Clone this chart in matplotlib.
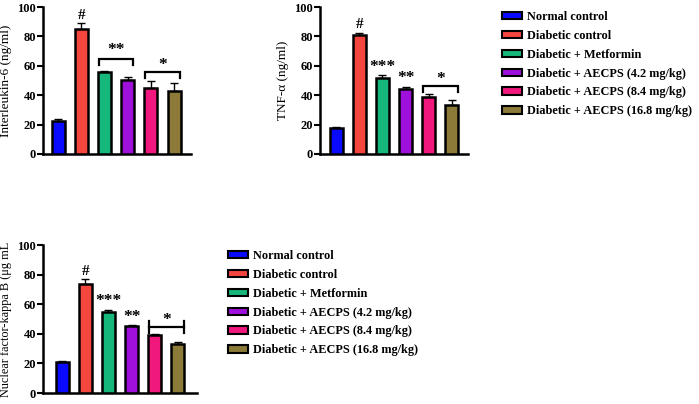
import numpy as np
import matplotlib
matplotlib.use("Agg")
import matplotlib.pyplot as plt
from matplotlib.patches import Patch

plt.rcParams['font.family'] = ['Liberation Serif', 'DejaVu Serif']
plt.rcParams['font.weight'] = 'bold'

# groups and colours
groups = ["Normal control", "Diabetic control", "Diabetic + Metformin",
          "Diabetic + AECPS (4.2 mg/kg)", "Diabetic + AECPS (8.4 mg/kg)",
          "Diabetic + AECPS (16.8 mg/kg)"]
colors = ["#0a0aff", "#f5453f", "#16b77a", "#a010dc", "#f0187c", "#8c7a38"]

# Interleukin-6
il6_mean = [22.5, 85, 55.5, 50.5, 45, 43]
il6_err = [1, 4, 1, 2, 4.5, 5]
il6_marks = ["", "#", "", "", "", ""]

# TNF-alpha
tnf_mean = [17.5, 81, 51.5, 44.5, 39, 33]
tnf_err = [1, 1.5, 2, 1, 1.5, 3.5]
tnf_marks = ["", "#", "***", "**", "", ""]

# NF-kB
nfkb_mean = [21, 73.5, 54.5, 45, 39, 33]
nfkb_err = [0.8, 3.5, 1.5, 0.7, 1, 1.5]
nfkb_marks = ["", "#", "***", "**", "", ""]

W, H = 699, 404
fig = plt.figure(figsize=(W / 100, H / 100), dpi=100)


def px_axes(left, right, top, bottom):
    return fig.add_axes([left / W, 1 - bottom / H, (right - left) / W, (bottom - top) / H])


def bar_panel(ax, means, errs, marks, ylabel, xlim, lab_size=9.5):
    x = np.arange(len(means))
    ax.bar(x, means, width=0.56, color=colors, edgecolor="black", linewidth=1.8, zorder=3)
    ax.errorbar(x, means, yerr=[np.zeros(len(errs)), errs], fmt="none", ecolor="black",
                elinewidth=1.0, capsize=3, capthick=1.0, zorder=2)
    for xi, m, e, s in zip(x, means, errs, marks):
        if s == "#":
            ax.text(xi, m + e + 1, s, ha="center", va="bottom", fontsize=11)
        elif s:
            ax.text(xi, m + e + 0.5, s, ha="center", va="bottom", fontsize=12.5)
    ax.set_xlim(*xlim)
    ax.set_ylim(0, 100)
    ax.set_yticks([0, 20, 40, 60, 80, 100])
    ax.set_xticks([])
    for sp in ["top", "right"]:
        ax.spines[sp].set_visible(False)
    for sp in ["left", "bottom"]:
        ax.spines[sp].set_linewidth(1.8)
    ax.tick_params(axis="y", direction="out", length=4, width=1.5, labelsize=9, pad=1)
    ax.set_ylabel(ylabel, fontsize=lab_size, labelpad=4)
    ax.set_facecolor("none")


def bracket(ax, x0, x1, y, star, tick_down=4, tick_up=0, dy=3):
    ax.plot([x0, x0, x1, x1], [y - tick_down, y, y, y - tick_down], color="black", lw=1.6,
            solid_joinstyle="miter")
    if tick_up:
        ax.plot([x0, x0], [y, y + tick_up], color="black", lw=1.6)
        ax.plot([x1, x1], [y, y + tick_up], color="black", lw=1.6)
    ax.text((x0 + x1) / 2, y + dy, star, ha="center", va="center", fontsize=12.5)


def legend_at(x, y):
    handles = [Patch(facecolor=c, edgecolor="black", linewidth=1.5) for c in colors]
    fig.legend(handles, groups, loc="upper left", bbox_to_anchor=(x / W, 1 - y / H),
               frameon=False, fontsize=8.8, handlelength=1.6, handleheight=0.55,
               handletextpad=0.45, labelspacing=0.56, borderaxespad=0, borderpad=0)


ax1 = px_axes(43, 191, 7, 154)
bar_panel(ax1, il6_mean, il6_err, il6_marks, "Interleukin-6 (ng/ml)", (-0.65, 5.73))
bracket(ax1, 1.75, 3.25, 64.5, "**", dy=6)
bracket(ax1, 3.75, 5.25, 55.5, "*", dy=5)

ax2 = px_axes(320, 468, 7, 154)
bar_panel(ax2, tnf_mean, tnf_err, tnf_marks, "TNF-α (ng/ml)", (-0.69, 5.69))
bracket(ax2, 3.75, 5.25, 46, "*", dy=5)

ax3 = px_axes(43, 197, 245, 393)
bar_panel(ax3, nfkb_mean, nfkb_err, nfkb_marks, "Nuclear factor-kappa B (μg mL", (-0.82, 5.82),
          lab_size=8.8)
bracket(ax3, 3.75, 5.25, 44.5, "*", tick_down=4, tick_up=4, dy=4.5)

legend_at(502, 11)
legend_at(228, 250)

fig.savefig("out.png", dpi=100)
